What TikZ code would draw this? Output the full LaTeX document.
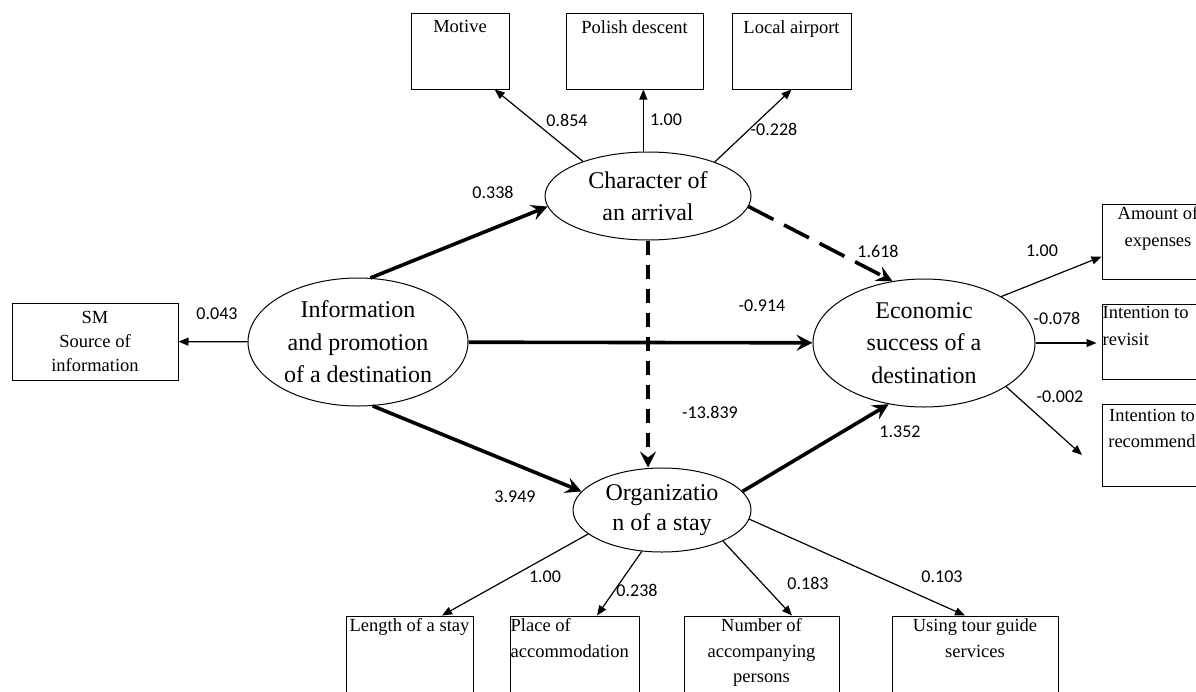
\documentclass[tikz,border=0pt]{standalone}
\usepackage{fontspec}
\setmainfont{Liberation Serif}
\newfontfamily\numfont{Carlito}
\usetikzlibrary{arrows.meta,shapes.geometric}
\begin{document}
\begin{tikzpicture}[x=1pt,y=-1pt,
  lat/.style={ellipse, draw, line width=1pt, inner sep=0pt, align=center},
  obs/.style={draw, line width=1pt, inner sep=0pt},
  btext/.style={font=\fontsize{18.5}{25.5}\selectfont, align=center, inner sep=0pt},
  coef/.style={font=\numfont\fontsize{18}{20}\selectfont, inner sep=0pt},
  thinarr/.style={line width=1.2pt, -{Triangle[length=10pt,width=8pt]}},
  thickarr/.style={line width=3.6pt, -{Stealth[length=16pt,width=16pt,inset=6pt]}},
  dashv/.style={thickarr, dash pattern=on 14pt off 10pt},
  dashd/.style={thickarr, dash pattern=on 28pt off 12pt},
]
\clip (0,0) rectangle (1196,691);
\fill[white] (0,0) rectangle (1196,691);

% latent variables
\node[lat, minimum width=220pt, minimum height=128pt, font=\fontsize{24}{32.5}\selectfont] (info) at (358,342) {Information\\and promotion\\of a destination};
\node[lat, minimum width=206pt, minimum height=88pt, font=\fontsize{24}{32}\selectfont] (char) at (648,196) {Character of\\an arrival};
\node[lat, minimum width=222pt, minimum height=128pt, font=\fontsize{24}{32.5}\selectfont] (econ) at (924,343) {Economic\\success of a\\destination};
\node[lat, minimum width=178pt, minimum height=84pt, font=\fontsize{24}{30}\selectfont] (org) at (662,510) {Organizatio\\n of a stay};

% observed boxes
\node[obs, minimum width=98pt, minimum height=76pt] (motive) at (460,51) {};
\node[obs, minimum width=137pt, minimum height=76pt] (polish) at (634.5,51) {};
\node[obs, minimum width=119pt, minimum height=76pt] (local) at (791.5,51) {};
\node[obs, minimum width=166pt, minimum height=77pt] (sm) at (95,341.5) {};
\node[obs, minimum width=112pt, minimum height=75pt] (amount) at (1158,241.5) {};
\node[obs, minimum width=112pt, minimum height=75pt] (revisit) at (1158,341.5) {};
\node[obs, minimum width=100pt, minimum height=82pt] (recommend) at (1152,445) {};
\node[obs, minimum width=127pt, minimum height=100pt] (len) at (409.5,666) {};
\node[obs, minimum width=129pt, minimum height=100pt] (place) at (574.5,666) {};
\node[obs, minimum width=155pt, minimum height=100pt] (number) at (761.5,666) {};
\node[obs, minimum width=166pt, minimum height=100pt] (using) at (975,666) {};

% box texts
\node[btext, anchor=north] (motiveT) at ([yshift=-8pt]motive.north) {Motive};
\node[btext, anchor=north] (polishT) at ([yshift=-8pt]polish.north) {Polish descent};
\node[btext, anchor=north] (localT) at ([yshift=-8pt]local.north) {Local airport};
\node[btext, anchor=north, font=\fontsize{18.5}{24}\selectfont] (smT) at ([yshift=-9pt]sm.north) {SM\\Source of\\information};
\node[btext, anchor=north, font=\fontsize{18.5}{27}\selectfont] (amountT) at ([yshift=-3pt]amount.north) {Amount of\\expenses};
\node[btext, anchor=north west, align=left, font=\fontsize{18.5}{27}\selectfont] (revisitT) at ([xshift=1pt,yshift=-3pt]revisit.north west) {Intention to\\revisit};
\node[btext, anchor=north, font=\fontsize{18.5}{26}\selectfont] (recT) at ([yshift=-6pt]recommend.north) {Intention to\\recommend};
\node[btext, anchor=north] (lenT) at ([yshift=-3pt]len.north) {Length of a stay};
\node[btext, anchor=north west, align=left] (placeT) at ([xshift=1pt,yshift=-3pt]place.north west) {Place of\\accommodation};
\node[btext, anchor=north] (numberT) at ([yshift=-3pt]number.north) {Number of\\accompanying\\persons};
\node[btext, anchor=north] (usingT) at ([yshift=-3pt]using.north) {Using tour guide\\services};

% structural paths
\draw[thickarr] (info.79) -- (char.186);
\draw[thickarr] (info) -- (econ);
\draw[thickarr] (info.283) -- (org.167);
\draw[dashd] (char.354) -- (econ.117);
\draw[dashv] (char.south) -- (char.south |- org.north);
\draw[thickarr] (org.13) -- (econ.240);

% measurement paths
\draw[thinarr] (info) -- (sm);
\draw[thinarr] (char.152) -- (motive.-48);
\draw[thinarr] (char.96) -- (char.96 |- polish.south);
\draw[thinarr] (char.27.6) -- (local.south);
\draw[thinarr] (econ.31.6) -- (amount.195.5);
\draw[thinarr, shorten >=5pt] (econ.east) -- (econ.east -| revisit.west);
\coordinate (recTip) at (1082,455);
\draw[thinarr] (econ.-28.8) -- (recTip);
\draw[thinarr] (org.198) -- ([xshift=32.5pt]len.north);
\draw[thinarr] (org.244.5) -- ([xshift=22.5pt]place.north);
\draw[thinarr] (org.-27.7) -- ([xshift=30.5pt]number.north);
\draw[thinarr] (org.-6.6) -- ([xshift=-10pt]using.north);

% coefficients
\node[coef] (k1) at (493,192) {0.338};
\node[coef] (k2) at (217,314) {0.043};
\node[coef] (k3) at (567,120) {0.854};
\node[coef] (k4) at (666,120) {1.00};
\node[coef] (k5) at (774,129) {-0.228};
\node[coef] (k6) at (878,251) {1.618};
\node[coef] (k7) at (1042,251) {1.00};
\node[coef] (k8) at (762,306) {-0.914};
\node[coef] (k9) at (1057,318) {-0.078};
\node[coef] (k10) at (1060,397) {-0.002};
\node[coef] (k11) at (710,412) {-13.839};
\node[coef] (k12) at (515,497) {3.949};
\node[coef] (k13) at (900,432) {1.352};
\node[coef] (k14) at (545,577) {1.00};
\node[coef] (k15) at (637,590) {0.238};
\node[coef] (k16) at (808,583) {0.183};
\node[coef] (k17) at (942,577) {0.103};
\end{tikzpicture}
\end{document}
